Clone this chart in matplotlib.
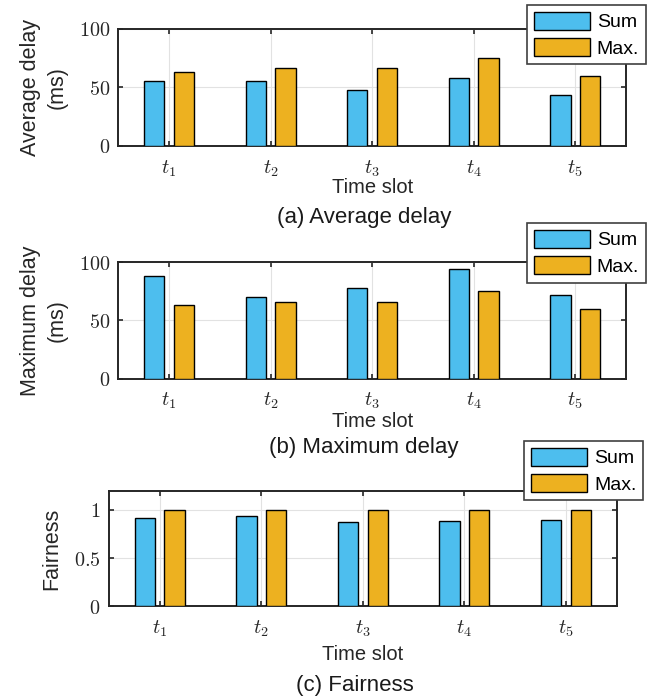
import numpy as np
import matplotlib as mpl
import matplotlib.pyplot as plt

mpl.rcParams.update({
    "font.family": ["Liberation Sans", "DejaVu Sans"],
    "mathtext.fontset": "cm",
    "font.size": 14,
    "axes.linewidth": 1.4,
    "xtick.direction": "in",
    "ytick.direction": "in",
    "xtick.top": True,
    "ytick.right": True,
})

# ---------------------------------------------------------------- data
slots = [r"$t_1$", r"$t_2$", r"$t_3$", r"$t_4$", r"$t_5$"]
series = ["Sum", "Max."]

avg_sum = [55, 55.5, 48, 58, 43]
avg_max = [63, 66, 66, 75, 60]

maxd_sum = [88, 70, 78, 94, 72]
maxd_max = [63, 66, 66, 75, 60]

fair_sum = [0.92, 0.94, 0.88, 0.89, 0.90]
fair_max = [1.0, 1.0, 1.0, 1.0, 1.0]

C_SUM = "#4DBEEE"
C_MAX = "#EDB120"
C_TXT = "#262626"

W, H = 657, 700
fig = plt.figure(figsize=(W / 100, H / 100), dpi=100)


def px_axes(left, right, top, bottom):
    return fig.add_axes([left / W, 1 - bottom / H, (right - left) / W,
                         (bottom - top) / H])


panels = [
    # axes box px (l, r, t, b), data, ymax, yticks, labels, ylabel, ylabel x,
    # xlabel y px, title, title y px, legend upper-right px
    ((118.3, 626, 28.7, 145.7), (avg_sum, avg_max), 100, [0, 50, 100],
     ["0", "50", "100"], "Average delay\n(ms)", -0.099, 187,
     "(a) Average delay", 217, (646, 4.7)),
    ((118.3, 626, 262.3, 378.5), (maxd_sum, maxd_max), 100, [0, 50, 100],
     ["0", "50", "100"], "Maximum delay\n(ms)", -0.099, 421.7,
     "(b) Maximum delay", 447, (646, 223)),
    ((109, 616.7, 490.7, 606.3), (fair_sum, fair_max), 1.2, [0, 0.5, 1],
     ["0", "0.5", "1"], "Fairness", -0.093, 655,
     "(c) Fairness", 686, (643.3, 440.7)),
]

x = np.arange(1, len(slots) + 1)
bw = 0.2
off = 0.146

for box, (s, m), ytop, yt, ytl, ylab, labx, xly, title, ty, leg in panels:
    l, r, t, b = box
    ax = px_axes(l, r, t, b)
    ax.bar(x - off, s, bw, color=C_SUM, edgecolor="black", lw=1.0,
           label=series[0], zorder=3)
    ax.bar(x + off, m, bw, color=C_MAX, edgecolor="black", lw=1.0,
           label=series[1], zorder=3)
    ax.set_xlim(0.5, 5.5)
    ax.set_ylim(0, ytop)
    ax.set_xticks(x)
    ax.set_xticklabels(slots, fontsize=14.5, color=C_TXT)
    ax.set_yticks(yt)
    ax.set_yticklabels([f"${v}$" for v in ytl], fontsize=14.5, color=C_TXT)
    ax.tick_params(axis="x", pad=9, length=3.5, width=1.2, color=C_TXT)
    ax.tick_params(axis="y", pad=6, length=3.5, width=1.2, color=C_TXT)
    ax.grid(True, color="#e2e2e2", lw=0.8, zorder=0)
    ax.set_axisbelow(True)
    ax.set_xlabel("Time slot", fontsize=14.5, color=C_TXT, va="center")
    ax.xaxis.set_label_coords(0.5, -(xly - b) / (b - t))
    ax.set_ylabel(ylab, fontsize=15.5, linespacing=1.35, color=C_TXT)
    ax.yaxis.set_label_coords(labx, 0.5)
    for sp in ax.spines.values():
        sp.set_color(C_TXT)
    fig.text(((l + r) / 2 - 8) / W, 1 - ty / H, title, fontsize=16,
             ha="center", va="center", color="#1a1a1a")
    lg = ax.legend(loc="upper right", bbox_to_anchor=(leg[0] / W, 1 - leg[1] / H),
                   bbox_transform=fig.transFigure, fontsize=14,
                   handlelength=2.9, handleheight=1.05, handletextpad=0.35,
                   labelspacing=0.35, borderpad=0.35, borderaxespad=0,
                   fancybox=False, framealpha=1, edgecolor="#404040")
    lg.get_frame().set_linewidth(1.2)

fig.savefig("out.png", dpi=100)
